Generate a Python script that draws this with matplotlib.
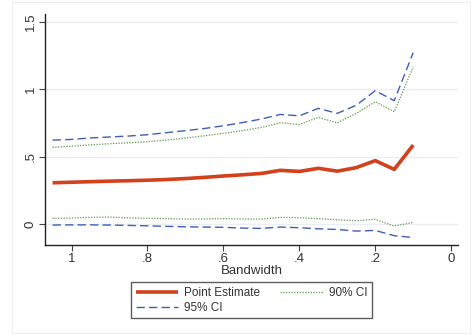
import numpy as np
import matplotlib.pyplot as plt
from matplotlib.patches import Rectangle

# bandwidths and estimates
bandwidth = [1.05, 1.0, 0.95, 0.9, 0.85, 0.8, 0.75, 0.7, 0.65, 0.6,
             0.55, 0.5, 0.45, 0.4, 0.35, 0.3, 0.25, 0.2, 0.15, 0.1]
point_est = [0.306, 0.310, 0.314, 0.318, 0.321, 0.325, 0.330, 0.337, 0.346, 0.356,
             0.365, 0.375, 0.398, 0.390, 0.413, 0.392, 0.418, 0.470, 0.405, 0.585]
ci90_hi = [0.568, 0.577, 0.587, 0.595, 0.602, 0.610, 0.622, 0.637, 0.654, 0.672,
           0.692, 0.716, 0.750, 0.738, 0.790, 0.750, 0.820, 0.906, 0.832, 1.165]
ci90_lo = [0.042, 0.045, 0.050, 0.052, 0.046, 0.043, 0.040, 0.037, 0.038, 0.040,
           0.038, 0.037, 0.050, 0.047, 0.040, 0.032, 0.025, 0.035, -0.015, 0.012]
ci95_hi = [0.622, 0.627, 0.638, 0.645, 0.652, 0.662, 0.677, 0.692, 0.708, 0.728,
           0.752, 0.778, 0.812, 0.802, 0.857, 0.820, 0.880, 0.988, 0.914, 1.270]
ci95_lo = [-0.007, -0.006, -0.006, -0.007, -0.010, -0.013, -0.017, -0.020, -0.022, -0.024,
           -0.030, -0.032, -0.022, -0.027, -0.035, -0.040, -0.052, -0.047, -0.086, -0.100]

xticks = [1, 0.8, 0.6, 0.4, 0.2, 0]
xlabels = ['1', '.8', '.6', '.4', '.2', '0']
yticks = [0, 0.5, 1, 1.5]
ylabels = ['0', '.5', '1', '1.5']

red = '#d2401c'
blue = '#3d5fb5'
green = '#5a9a4a'

plt.rcParams['font.family'] = ['Liberation Sans', 'DejaVu Sans']

fig = plt.figure(figsize=(4.77, 3.35), dpi=100)
fig.patches.append(Rectangle((0.026, 0.006), 0.96, 0.988, transform=fig.transFigure,
                             fill=False, edgecolor='#eeeeee', lw=0.8))
ax = fig.add_axes([45 / 477, 1 - 245 / 335, 413 / 477, 231 / 335])

l95, = ax.plot(bandwidth, ci95_hi, color=blue, lw=1.0, ls=(0, (6, 3)), label='95% CI')
ax.plot(bandwidth, ci95_lo, color=blue, lw=1.0, ls=(0, (6, 3)))
l90, = ax.plot(bandwidth, ci90_hi, color=green, lw=0.9, ls=(0, (1, 1.2)), label='90% CI')
ax.plot(bandwidth, ci90_lo, color=green, lw=0.9, ls=(0, (1, 1.2)))
lpe, = ax.plot(bandwidth, point_est, color=red, lw=2.6, label='Point Estimate',
               solid_capstyle='butt')

ax.set_xlim(1.07, -0.018)
ax.set_ylim(-0.155, 1.556)
ax.set_xticks(xticks)
ax.set_xticklabels(xlabels)
ax.set_yticks(yticks)
ax.set_yticklabels(ylabels, rotation=90, va='center')
for y in yticks:
    ax.axhline(y, color='#eaeef0', lw=0.9, zorder=0)

for s in ['top', 'right']:
    ax.spines[s].set_visible(False)
for s in ['left', 'bottom']:
    ax.spines[s].set_color('#222222')
    ax.spines[s].set_linewidth(1.0)
ax.tick_params(colors='#444444', labelcolor='#333333', labelsize=9.5, length=4, width=0.8,
               pad=2)
ax.set_xlabel('Bandwidth', fontsize=9.5, color='#333333', labelpad=0)

leg = fig.legend(handles=[lpe, l95, l90], labels=['Point Estimate', '95% CI', '90% CI'],
                 ncol=2, loc='upper left', bbox_to_anchor=(131 / 477, 1 - 282 / 335),
                 fontsize=8.5, frameon=True, fancybox=False, handlelength=3.6,
                 columnspacing=1.7, borderpad=0.4, labelspacing=0.25, handletextpad=0.5,
                 borderaxespad=0)
leg.get_frame().set_edgecolor('#333333')
leg.get_frame().set_linewidth(1.0)
for t in leg.get_texts():
    t.set_color('#333333')

fig.savefig('out.png', dpi=100)
